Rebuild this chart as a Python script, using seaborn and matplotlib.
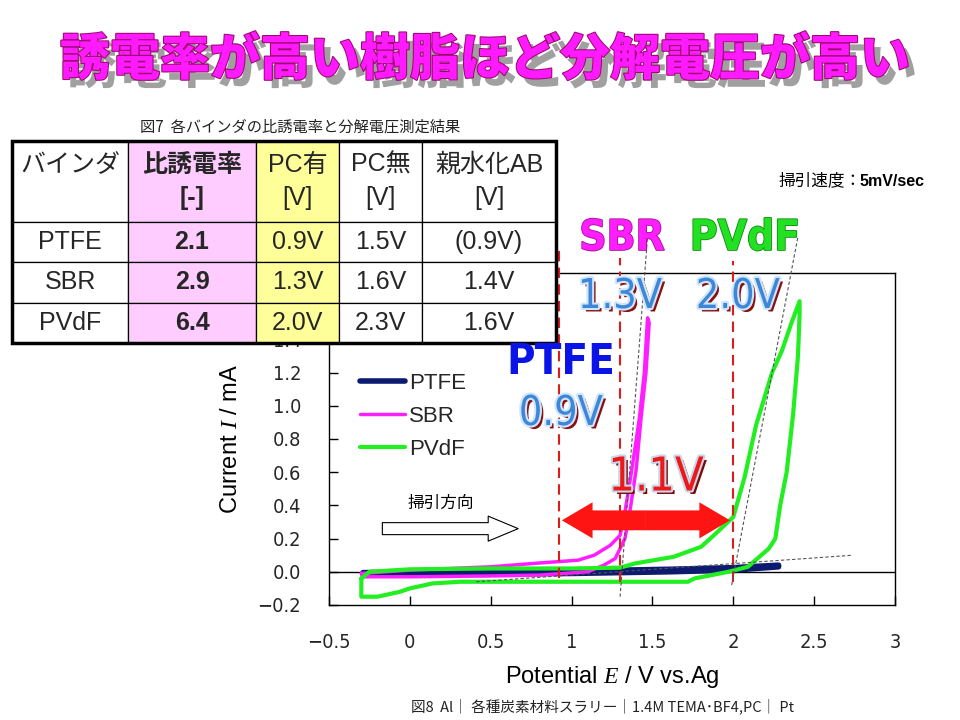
import numpy as np
import matplotlib
matplotlib.use("Agg")
import matplotlib.pyplot as plt
import matplotlib.patheffects as pe
from matplotlib import font_manager
from matplotlib.patches import FancyArrowPatch, Rectangle
import seaborn as sns

# ---- values ----
TITLE = "誘電率が高い樹脂ほど分解電圧が高い"

# cyclic voltammograms (E / V vs.Ag, I / mA)
PTFE_E = [-0.29, 0.00, 0.50, 1.00, 1.30, 1.60, 2.00, 2.28, 2.28, 2.00, 1.60, 1.30, 1.00, 0.50, 0.00, -0.29]
PTFE_I = [-0.005, -0.002, 0.000, 0.005, 0.010, 0.015, 0.025, 0.040, 0.030, 0.010, 0.000, -0.005, -0.010, -0.012, -0.015, -0.015]

SBR_E = [-0.30, 0.00, 0.50, 0.76, 1.04, 1.14, 1.24, 1.30, 1.33, 1.37, 1.42, 1.45, 1.47,
         1.48, 1.46, 1.43, 1.40, 1.36, 1.33, 1.27, 1.20, 1.10, 0.80, 0.50, 0.00, -0.29, -0.30]
SBR_I = [-0.01, 0.01, 0.03, 0.05, 0.07, 0.10, 0.16, 0.22, 0.36, 0.60, 0.93, 1.20, 1.53,
         1.50, 1.20, 0.93, 0.62, 0.36, 0.20, 0.08, 0.04, 0.00, -0.02, -0.025, -0.03, -0.03, -0.01]

PVDF_E = [-0.30, -0.25, 0.00, 0.50, 1.00, 1.30, 1.39, 1.63, 1.80, 1.88, 2.00, 2.07, 2.14, 2.24,
          2.30, 2.36, 2.41, 2.41, 2.40, 2.37, 2.33, 2.29, 2.26, 2.22, 2.09, 1.97, 1.76, 1.72,
          1.30, 0.80, 0.31, 0.14, 0.00, -0.06, -0.20, -0.30, -0.30]
PVDF_I = [-0.04, 0.00, 0.015, 0.02, 0.02, 0.025, 0.05, 0.09, 0.15, 0.22, 0.33, 0.57, 0.88, 1.20,
          1.33, 1.50, 1.63, 1.55, 1.30, 0.95, 0.60, 0.40, 0.20, 0.14, 0.03, 0.00, -0.04, -0.06,
          -0.06, -0.06, -0.06, -0.07, -0.10, -0.12, -0.15, -0.15, -0.04]

# decomposition onset potentials (red dashed) and tangent construction lines
ONSET_E = [0.92, 1.30, 2.00]
ONSET_TOP = [1.95, 1.89, 1.87]
ONSET_BOTTOM = [-0.04, -0.06, -0.06]
TANGENTS = [((0.41, 2.74), (-0.06, 0.10)),
            ((1.30, 1.47), (-0.15, 2.02)),
            ((1.99, 2.40), (-0.08, 2.02))]

XTICKS = [-0.5, 0, 0.5, 1, 1.5, 2, 2.5, 3]
XTICKLABELS = ["\u22120.5", "0", "0.5", "1", "1.5", "2", "2.5", "3"]
YTICKS = [-0.2, 0.0, 0.2, 0.4, 0.6, 0.8, 1.0, 1.2, 1.4, 1.6, 1.8]

# table 7
TABLE_HEADER = ["バインダ\n", "比誘電率\n[-]", "PC有\n[V]", "PC無\n[V]", "親水化AB\n[V]"]
BINDERS = ["PTFE", "SBR", "PVdF"]
PERMITTIVITY = ["2.1", "2.9", "6.4"]
V_PC = ["0.9V", "1.3V", "2.0V"]
V_NO_PC = ["1.5V", "1.6V", "2.3V"]
V_AB = ["(0.9V)", "1.4V", "1.6V"]


def has_font(name):
    try:
        font_manager.findfont(name, fallback_to_default=False)
        return True
    except ValueError:
        return False


# pick the narrowest sans face that is installed
if has_font("Liberation Sans Narrow"):
    NARROW = dict(family="Liberation Sans Narrow", fontstretch="normal")
    NS = 1.0
else:
    path = font_manager.findfont(font_manager.FontProperties(family="DejaVu Sans", stretch="condensed"))
    if "Condensed" in path:
        NARROW = dict(family="DejaVu Sans", fontstretch="condensed")
        NS = 0.8
    else:
        NARROW = dict(family="DejaVu Sans", fontstretch="normal")
        NS = 0.72
JP = ["Noto Sans CJK JP", "DejaVu Sans"]

sns.set_theme(style="white")
plt.rcParams["font.family"] = ["Liberation Sans", "Noto Sans CJK JP", "DejaVu Sans"]
plt.rcParams["mathtext.fontset"] = "custom"
plt.rcParams["mathtext.it"] = "Liberation Serif:italic"
plt.rcParams["mathtext.rm"] = "Liberation Sans"


def fx(px):
    return px / 960


def fy(py):
    return 1 - py / 720


fig = plt.figure(figsize=(9.6, 7.2), dpi=100)
fig.patch.set_facecolor("white")

# ---- main CV chart ----
ax = fig.add_axes([fx(329), fy(605), (895 - 329) / 960, (605 - 273) / 720])
ax.set_facecolor("white")

sns.lineplot(x=PTFE_E, y=PTFE_I, sort=False, estimator=None, color="#0c1a70", lw=4, label="PTFE", ax=ax)
sns.lineplot(x=SBR_E, y=SBR_I, sort=False, estimator=None, color="#ff1eff", lw=2.5, label="SBR", ax=ax)
sns.lineplot(x=PVDF_E, y=PVDF_I, sort=False, estimator=None, color="#22ee22", lw=3, label="PVdF", ax=ax)

ax.axhline(0, color="black", lw=1, zorder=1)

for e, top, bot in zip(ONSET_E, ONSET_TOP, ONSET_BOTTOM):
    ax.plot([e, e], [bot, top], color="#dd1c1c", lw=1.5, dashes=(5, 3), clip_on=False, zorder=4)
for xs, ys in TANGENTS:
    ax.plot(xs, ys, color="#555555", lw=0.8, dashes=(3, 2), clip_on=False, zorder=4)

ax.set_xlim(-0.5, 3)
ax.set_ylim(-0.2, 1.8)
ax.set_xticks(XTICKS)
ax.set_xticklabels(XTICKLABELS)
ax.set_yticks(YTICKS)
ax.set_yticklabels([f"{v:.1f}".replace("-", "\u2212") for v in YTICKS])
ax.tick_params(direction="in", length=6.5, width=1, color="black", pad=20,
               labelsize=max(18 * NS, 14), bottom=True, left=True)
for lab in ax.get_xticklabels() + ax.get_yticklabels():
    lab.set_fontfamily(NARROW["family"])
    lab.set_fontstretch(NARROW["fontstretch"])
for sp in ax.spines.values():
    sp.set_visible(True)
    sp.set_color("black")
    sp.set_linewidth(1)

ax.set_ylabel(r"Current $\mathit{I}$ / mA", fontsize=17, labelpad=11, color="black")
ax.set_xlabel(r"Potential $\mathit{E}$ / V vs.Ag", fontsize=17, labelpad=9, color="black")

ax.legend(loc="upper left", bbox_to_anchor=(0.055, 0.70), frameon=False, fontsize=16,
          handlelength=2.0, handletextpad=0.2, labelspacing=0.55, borderpad=0, borderaxespad=0)

# sweep direction arrow
ax.add_patch(FancyArrowPatch((-0.17, 0.26), (0.67, 0.26),
                             arrowstyle="simple,head_length=1.2,head_width=1.0,tail_width=0.48",
                             mutation_scale=18, fc="white", ec="black", lw=0.8, zorder=5,
                             shrinkA=0, shrinkB=0))
ax.text(0.19, 0.41, "掃引方向", fontsize=12, family=JP, ha="center", va="center", color="black")

# red double arrow (1.1 V gap)
for end in (0.94, 1.98):
    ax.add_patch(FancyArrowPatch((1.46, 0.31), (end, 0.31),
                                 arrowstyle="simple,head_length=0.85,head_width=1.0,tail_width=0.55",
                                 mutation_scale=26, fc="#ff1414", ec="none", zorder=6, clip_on=False,
                                 shrinkA=0, shrinkB=0))

# ---- table 7 ----
tax = fig.add_axes([fx(12), fy(343), 544 / 960, (343 - 141) / 720], zorder=5)
tax.axis("off")
rows = [list(r) for r in zip(BINDERS, PERMITTIVITY, V_PC, V_NO_PC, V_AB)]
col_w = [116, 128, 83, 83, 134]
tbl = tax.table(cellText=rows, colLabels=TABLE_HEADER, colWidths=[w / sum(col_w) for w in col_w],
                cellLoc="center", bbox=[0, 0, 1, 1])
tbl.auto_set_font_size(False)
tbl.set_fontsize(18)
col_bg = {1: "#ffccff", 2: "#ffff99"}
for (r, c), cell in tbl.get_celld().items():
    cell.set_edgecolor("black")
    cell.set_linewidth(0.9)
    cell.set_facecolor(col_bg.get(c, "white"))
    txt = cell.get_text()
    txt.set_fontfamily(["Liberation Sans", "Noto Sans CJK JP"])
    if r == 0:
        cell.set_height(cell.get_height() * 2)
        txt.set_linespacing(1.5)
    if c == 1:
        txt.set_fontweight("bold")
tax.add_patch(Rectangle((0, 0), 1, 1, transform=tax.transAxes, fill=False, ec="black",
                        lw=2.5, clip_on=False, zorder=10))

# ---- figure texts ----
fig.text(fx(485), fy(60), TITLE, fontsize=36, fontweight=900, color="#ff1aff", family=JP,
         ha="center", va="center", zorder=20,
         path_effects=[pe.SimplePatchShadow(offset=(5, -6), shadow_rgbFace="#a0a0a0", alpha=1),
                       pe.Stroke(linewidth=1.5, foreground="#9c0a6e"), pe.Normal()])

fig.text(fx(300), fy(127), "図7  各バインダの比誘電率と分解電圧測定結果", fontsize=11, family=JP,
         ha="center", va="center", color="#222222")
fig.text(fx(778), fy(181), "掃引速度：", fontsize=12, family=JP, ha="left", va="center", color="black")
fig.text(fx(860), fy(181), "5mV/sec", fontsize=11.5, fontweight="bold", ha="left", va="center", color="black")
fig.text(fx(603), fy(706), "図8  Al｜ 各種炭素材料スラリー｜1.4M TEMA･BF4,PC｜ Pt", fontsize=10.5,
         family=JP, ha="center", va="center", color="#222222")

blue_fx = [pe.SimplePatchShadow(offset=(2.5, -2.5), shadow_rgbFace="#8b1010", alpha=1),
           pe.Stroke(linewidth=3, foreground="#cfe6ff"), pe.Normal()]
red_fx = [pe.SimplePatchShadow(offset=(2.5, -2.5), shadow_rgbFace="#7a0a0a", alpha=1),
          pe.Stroke(linewidth=3, foreground="#c8d8ea"), pe.Normal()]

fig.text(fx(622), fy(238), "SBR", fontsize=38 * NS, fontweight="bold", color="#ff1eff",
         ha="center", va="center", zorder=20, **NARROW,
         path_effects=[pe.Stroke(linewidth=1.2, foreground="#a0108a"), pe.Normal()])
fig.text(fx(745), fy(238), "PVdF", fontsize=38 * NS, fontweight="bold", color="#22e022",
         ha="center", va="center", zorder=20, **NARROW,
         path_effects=[pe.Stroke(linewidth=1.2, foreground="#108a10"), pe.Normal()])
fig.text(fx(620), fy(297), "1.3V", fontsize=37 * NS, color="#3f87d6",
         ha="center", va="center", zorder=20, path_effects=blue_fx, **NARROW)
fig.text(fx(738), fy(297), "2.0V", fontsize=37 * NS, color="#3f87d6",
         ha="center", va="center", zorder=20, path_effects=blue_fx, **NARROW)
fig.text(fx(561), fy(362), "PTFE", fontsize=39 * NS, fontweight="bold", color="#0a14e6",
         ha="center", va="center", zorder=20, **NARROW)
fig.text(fx(561), fy(414), "0.9V", fontsize=37 * NS, color="#3f87d6",
         ha="center", va="center", zorder=20, path_effects=blue_fx, **NARROW)
fig.text(fx(656), fy(478), "1.1V", fontsize=42 * NS, color="#ee1818",
         ha="center", va="center", zorder=20, path_effects=red_fx, **NARROW)

fig.savefig("out.png", dpi=100, facecolor="white")
